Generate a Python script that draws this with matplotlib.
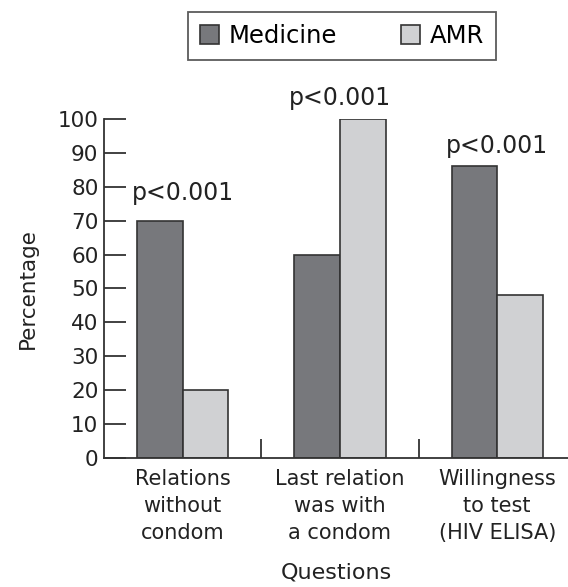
import numpy as np
import matplotlib.pyplot as plt

categories = ['Relations\nwithout\ncondom', 'Last relation\nwas with\na condom', 'Willingness\nto test\n(HIV ELISA)']
medicine = [70, 60, 86]
amr = [20, 100, 48]
p_labels = ['p<0.001', 'p<0.001', 'p<0.001']
p_heights = [76, 104, 90]

plt.rcParams['font.family'] = 'DejaVu Sans'

fig = plt.figure(figsize=(5.68, 5.87), dpi=100)
ax = fig.add_axes([0.183, 0.2198, 0.817, 0.5775])

x = np.arange(len(categories))
w = 0.29
ax.bar(x - w / 2, medicine, w, color='#77787c', edgecolor='#333333', linewidth=1.2, label='Medicine')
ax.bar(x + w / 2, amr, w, color='#d0d1d3', edgecolor='#333333', linewidth=1.2, label='AMR')

for xi, lab, h in zip(x, p_labels, p_heights):
    ax.text(xi, h, lab, ha='center', va='baseline', fontsize=17, color='#222222')

ax.set_xlim(-0.5, 2.45)
ax.set_ylim(0, 100)
ax.set_yticks(range(0, 101, 10))
ax.set_xticks(x)
ax.set_xticklabels(categories, fontsize=15, color='#222222', linespacing=1.45)
ax.set_xticks([0.5, 1.5], minor=True)

for s in ['top', 'right']:
    ax.spines[s].set_visible(False)
for s in ['left', 'bottom']:
    ax.spines[s].set_color('#333333')
    ax.spines[s].set_linewidth(1.3)

ax.tick_params(axis='y', direction='in', length=16, width=1.3, color='#333333',
               labelsize=15.5, labelcolor='#222222', pad=4)
ax.tick_params(axis='x', which='major', length=0, pad=8)
ax.tick_params(axis='x', which='minor', direction='in', length=14, width=1.3, color='#333333')

ax.set_ylabel('Percentage', fontsize=15.5, color='#222222', labelpad=14)
ax.set_xlabel('Questions', fontsize=16, color='#222222', labelpad=14)

leg = fig.legend(loc='center', bbox_to_anchor=(342 / 568, 1 - 36 / 587), ncol=2,
                 fontsize=17.5, frameon=True, fancybox=False, edgecolor='#333333',
                 handlelength=0.8, handleheight=0.8, handletextpad=0.4,
                 columnspacing=2.6, borderpad=0.5, borderaxespad=0)
leg.get_frame().set_linewidth(1.3)

fig.savefig('out.png', dpi=100)
